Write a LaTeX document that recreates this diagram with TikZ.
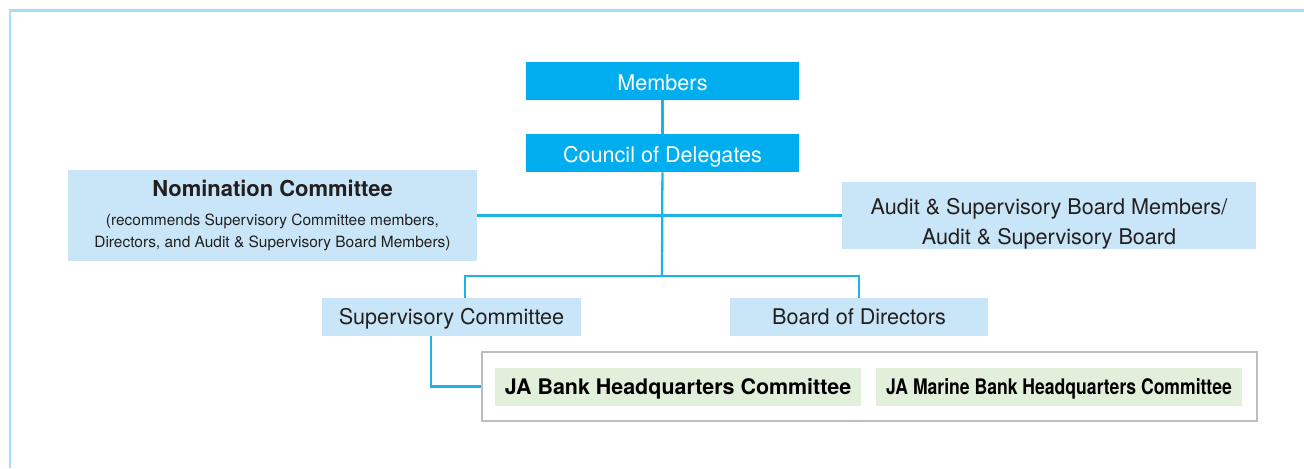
\documentclass[tikz,border=0pt]{standalone}
\usepackage{fontspec}
\setmainfont{TeX Gyre Heros}
\definecolor{topblue}{HTML}{00AEEF}
\definecolor{paleblue}{HTML}{C8E6F8}
\definecolor{palegreen}{HTML}{E2EFDA}
\definecolor{linkblue}{HTML}{1BB3E8}
\definecolor{frameblue}{HTML}{A9DDF6}
\definecolor{boxgray}{HTML}{BDBDBD}
\definecolor{inkgray}{HTML}{231F20}
\newcommand{\notefont}{\mdseries\fontsize{8.8}{12.5}\selectfont}
\begin{document}
\begin{tikzpicture}[x=0.02cm, y=-0.02cm,
  topbox/.style={fill=topblue, text=white, inner sep=0pt, minimum width=5.46cm, minimum height=0.76cm,
    text height=12pt, text depth=1pt, font=\fontsize{12.3}{15}\selectfont},
  palebox/.style={fill=paleblue, text=inkgray, inner sep=0pt, align=center,
    font=\fontsize{12.3}{17}\selectfont},
  greenbox/.style={fill=palegreen, text=black, inner sep=0pt, minimum width=7.32cm, minimum height=0.76cm,
    text depth=1pt, font=\bfseries\fontsize{12.2}{15}\selectfont},
  link/.style={draw=linkblue, line width=1.3pt}]
\useasboundingbox (0,0) rectangle (1304,468);
\draw[frameblue, line width=1.3pt] (10,468) |- (1304,10.5);
\node[topbox] (members) at (662.5, 81) {Members};
\node[topbox] (council) at (662.5, 153) {Council of Delegates};
\node[palebox, minimum width=8.18cm, minimum height=1.82cm] (nomination) at (272.5, 215.5)
  {\bfseries\fontsize{12.5}{15}\selectfont Nomination Committee\\[-1pt]
   \notefont (recommends Supervisory Committee members,\\[-4.5pt]
   \notefont Directors, and Audit \& Supervisory Board Members)};
\node[palebox, minimum width=8.28cm, minimum height=1.22cm] (audit) at (1049, 215.5)
  {\rule{0pt}{19pt}Audit \& Supervisory Board Members/\\Audit \& Supervisory Board};
\node[palebox, minimum width=5.18cm, minimum height=0.76cm, text depth=1pt] (superv) at (451.5, 317) {Supervisory Committee};
\node[palebox, minimum width=5.16cm, minimum height=0.76cm, text depth=1pt] (board) at (859, 317) {Board of Directors};
\node[draw=boxgray, line width=1.13pt, minimum width=15.5cm, minimum height=1.38cm] (group) at (869.5, 386.5) {};
\node[greenbox] (jabank) at (678, 387) {JA Bank Headquarters Committee};
\node[greenbox] (jamarine) at (1059, 387) {\scalebox{0.82}[1]{JA Marine Bank Headquarters Committee}};
\coordinate (fork) at (662, 276);
\draw[link] (members) -- (council);
\draw[link] (nomination) -- (audit);
\draw[link] (council) -- (fork);
\draw[link] ([xshift=0.27cm]superv.north) |- (fork) -| (board.north);
\draw[link] ([xshift=-0.41cm]superv.south) |- (group.west);
\end{tikzpicture}
\end{document}
